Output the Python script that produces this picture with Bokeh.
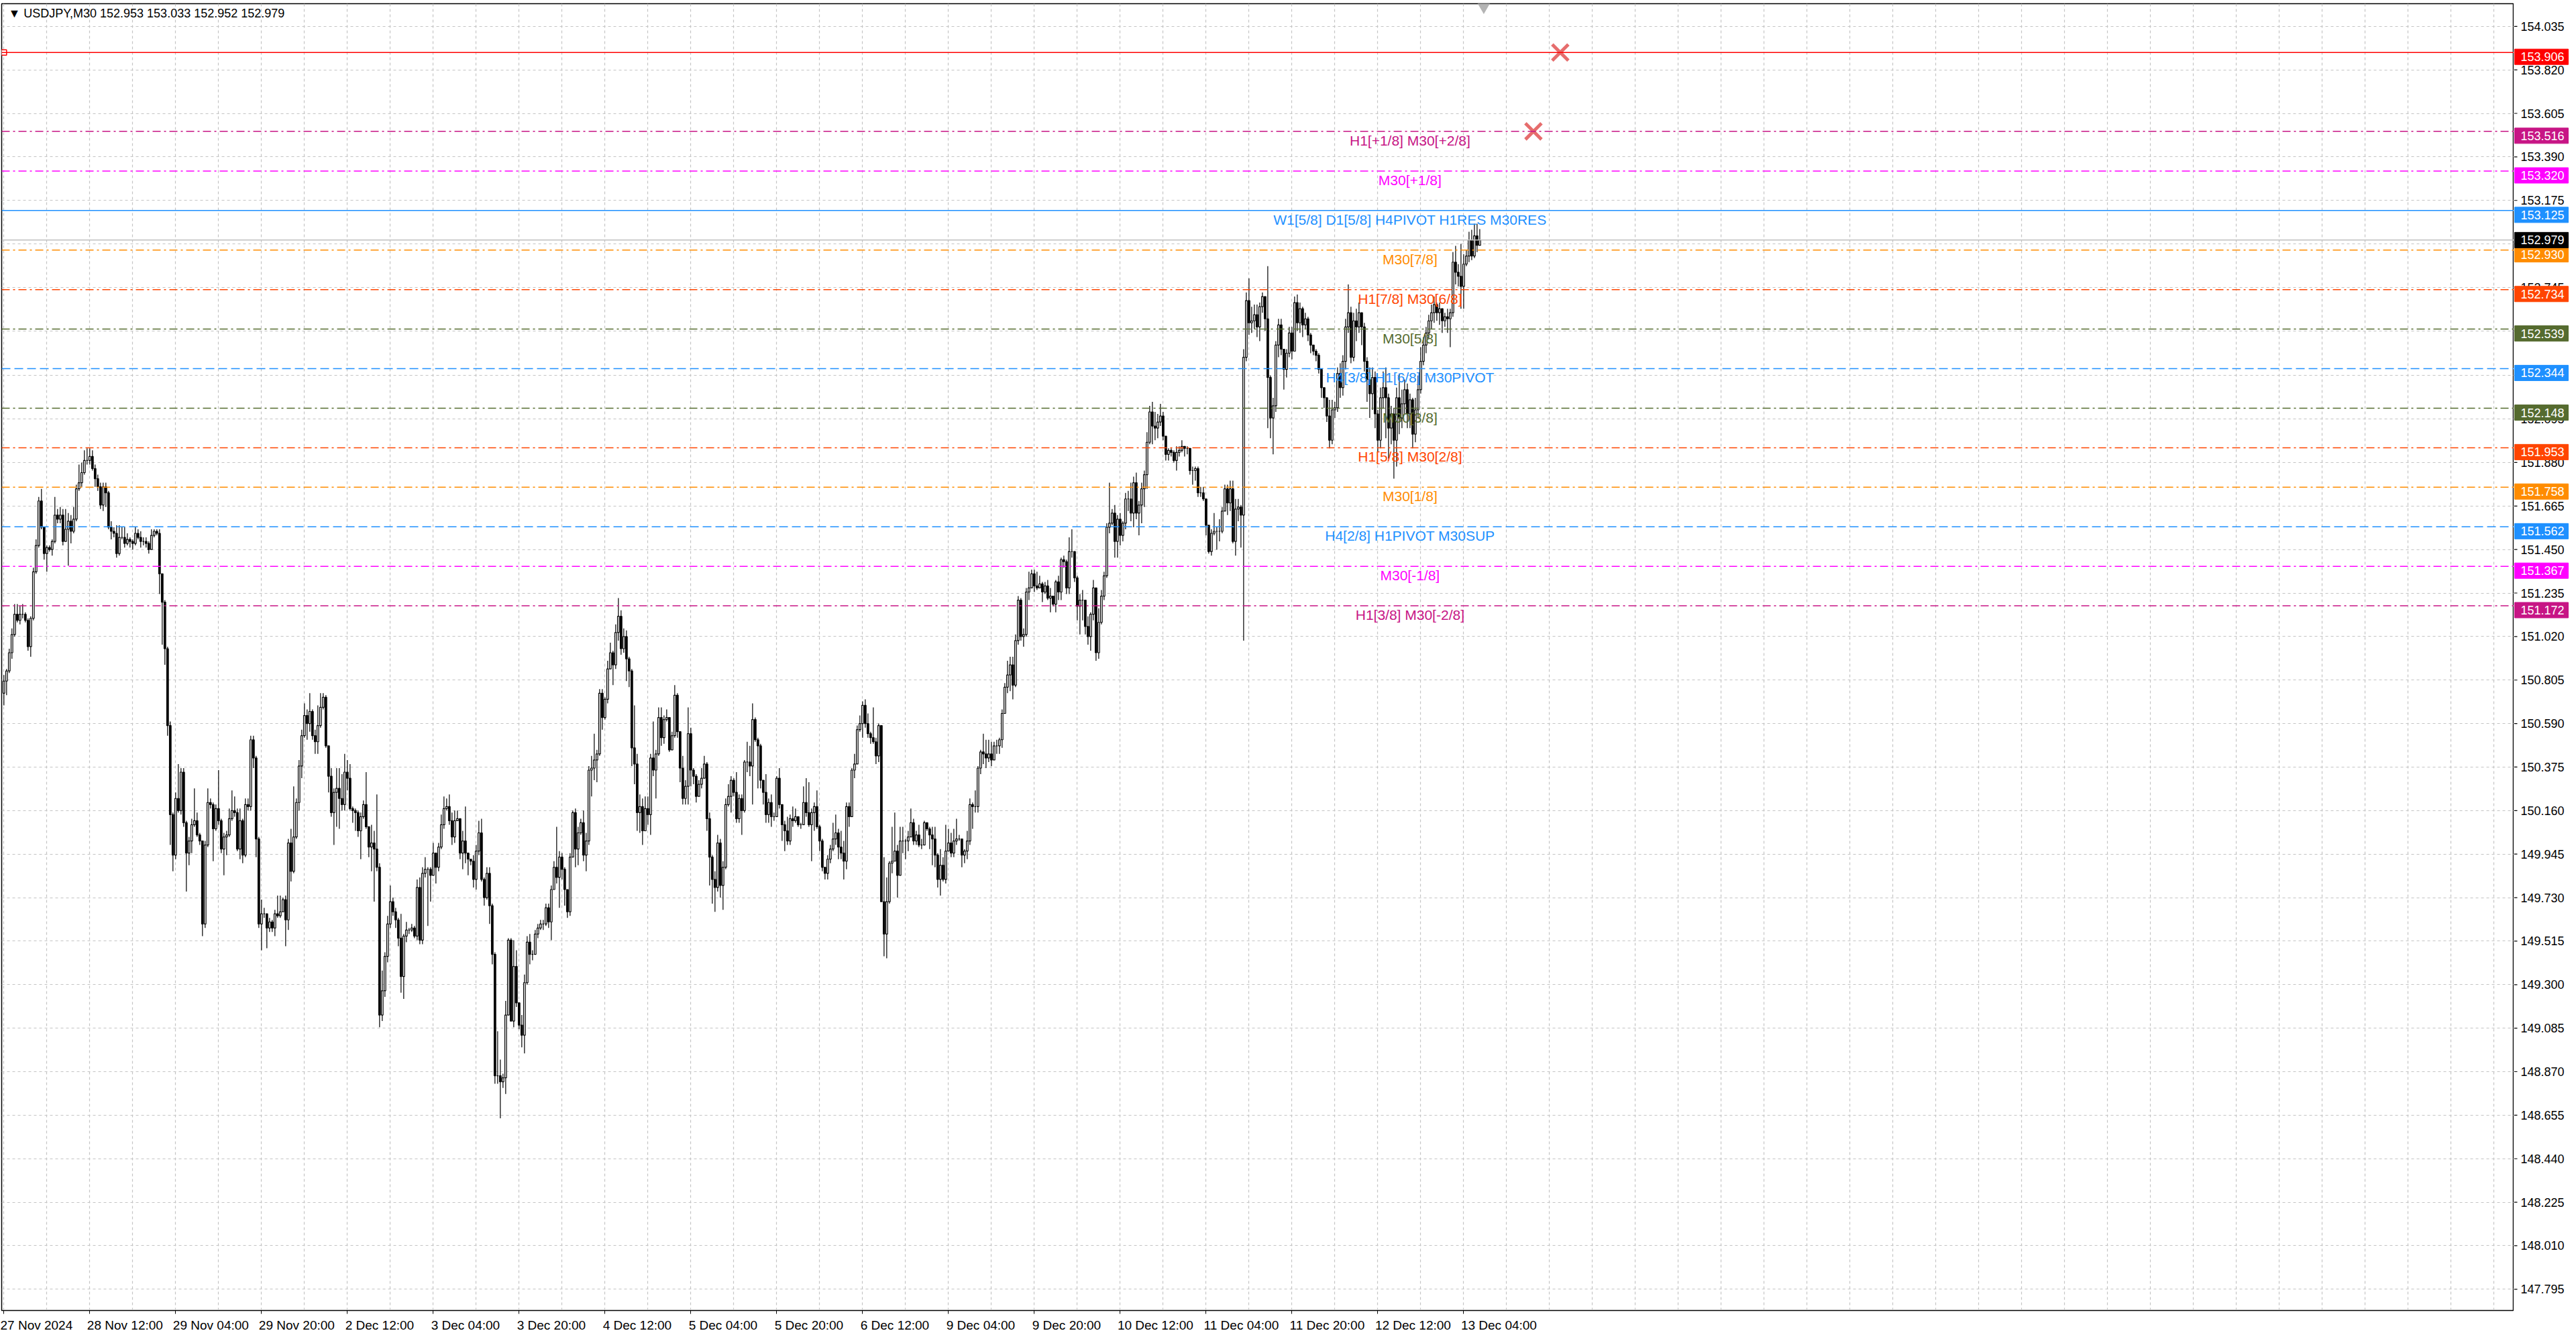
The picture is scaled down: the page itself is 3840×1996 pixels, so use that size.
import numpy as np
from bokeh.plotting import figure
from bokeh.layouts import row
from bokeh.models import ColumnDataSource, Range1d, FixedTicker, Span, Label, LinearAxis
from bokeh.core.properties import value
from bokeh.embed import file_html
from bokeh.resources import INLINE

# USDJPY M30 bars, bar 0 = 27 Nov 20:00
first_open = 150.74

close = [
    150.80, 150.85, 150.94, 151.03, 151.13, 151.10, 151.13, 151.13, 151.10, 150.97,
    151.11, 151.34, 151.47, 151.69, 151.56, 151.43, 151.46, 151.45, 151.49, 151.62,
    151.60, 151.62, 151.49, 151.55, 151.59, 151.54, 151.60, 151.75, 151.78, 151.83,
    151.89, 151.89, 151.91, 151.85, 151.80, 151.76, 151.67, 151.76, 151.73, 151.56,
    151.54, 151.53, 151.43, 151.51, 151.51, 151.48, 151.50, 151.49, 151.48, 151.53,
    151.51, 151.49, 151.49, 151.48, 151.45, 151.52, 151.54, 151.53, 151.33, 151.19,
    150.96, 150.58, 150.14, 149.94, 150.22, 150.16, 150.35, 150.10, 149.95, 150.01,
    150.09, 150.11, 150.04, 150.01, 149.60, 149.99, 150.20, 150.19, 150.07, 150.17,
    150.11, 149.97, 150.03, 150.04, 150.12, 150.16, 150.15, 149.97, 150.11, 149.94,
    150.19, 150.18, 150.51, 150.42, 150.02, 149.60, 149.65, 149.65, 149.58, 149.61,
    149.58, 149.65, 149.64, 149.66, 149.72, 149.62, 150.00, 149.86, 150.03, 150.20,
    150.38, 150.53, 150.63, 150.59, 150.65, 150.53, 150.50, 150.58, 150.67, 150.72,
    150.48, 150.33, 150.15, 150.25, 150.27, 150.22, 150.19, 150.35, 150.32, 150.17,
    150.16, 150.15, 150.06, 150.13, 150.19, 150.08, 149.98, 150.00, 149.97, 149.88,
    149.15, 149.27, 149.44, 149.60, 149.71, 149.66, 149.62, 149.53, 149.34, 149.54,
    149.57, 149.57, 149.58, 149.54, 149.78, 149.52, 149.85, 149.87, 149.87, 149.84,
    149.95, 149.88, 149.98, 150.09, 150.17, 150.18, 150.11, 150.03, 150.11, 150.12,
    149.95, 150.01, 149.95, 149.92, 149.91, 149.82, 149.96, 150.05, 149.82, 149.73,
    149.85, 149.69, 149.45, 148.85, 148.85, 148.82, 148.84, 149.15, 149.52, 149.12,
    149.39, 149.21, 149.10, 149.05, 149.31, 149.51, 149.45, 149.45, 149.55, 149.58,
    149.60, 149.60, 149.68, 149.61, 149.77, 149.88, 149.83, 149.93, 149.87, 149.77,
    149.66, 149.93, 150.15, 149.97, 150.05, 150.10, 149.94, 150.01, 150.36, 150.37,
    150.41, 150.44, 150.74, 150.62, 150.71, 150.86, 150.94, 150.88, 151.04, 151.12,
    150.96, 151.02, 150.91, 150.85, 150.47, 150.39, 150.15, 150.18, 150.06, 150.17,
    150.14, 150.42, 150.36, 150.44, 150.62, 150.52, 150.61, 150.62, 150.46, 150.53,
    150.73, 150.55, 150.37, 150.22, 150.28, 150.54, 150.36, 150.33, 150.23, 150.29,
    150.32, 150.39, 150.12, 149.93, 149.82, 149.78, 150.00, 149.79, 149.88, 150.19,
    150.23, 150.31, 150.25, 150.12, 150.22, 150.16, 150.40, 150.40, 150.38, 150.61,
    150.51, 150.48, 150.31, 150.25, 150.14, 150.20, 150.13, 150.13, 150.32, 150.19,
    150.09, 150.06, 150.01, 150.12, 150.11, 150.13, 150.09, 150.09, 150.20, 150.15,
    150.09, 150.15, 150.18, 150.08, 150.01, 149.88, 149.85, 149.92, 149.97, 150.02,
    150.05, 149.98, 149.95, 149.91, 150.18, 150.13, 150.36, 150.39, 150.56, 150.59,
    150.68, 150.59, 150.54, 150.52, 150.50, 150.43, 150.58, 149.71, 149.55, 149.71,
    149.90, 149.91, 149.96, 149.84, 150.01, 150.01, 150.01, 150.03, 150.10, 150.01,
    150.04, 149.99, 149.99, 150.10, 150.07, 150.04, 150.02, 149.94, 149.82, 149.89,
    149.82, 149.96, 150.00, 149.95, 150.01, 150.02, 150.02, 149.94, 149.96, 150.01,
    150.19, 150.18, 150.18, 150.37, 150.45, 150.44, 150.42, 150.44, 150.41, 150.48,
    150.48, 150.51, 150.64, 150.77, 150.83, 150.88, 150.78, 151.00, 151.20, 151.02,
    151.03, 151.24, 151.26, 151.33, 151.27, 151.26, 151.28, 151.24, 151.27, 151.21,
    151.22, 151.18, 151.29, 151.24, 151.40, 151.39, 151.26, 151.44, 151.44, 151.31,
    151.17, 151.20, 151.20, 151.07, 151.02, 151.13, 151.26, 150.94, 151.09, 151.22,
    151.32, 151.56, 151.58, 151.63, 151.49, 151.60, 151.52, 151.58, 151.70, 151.70,
    151.63, 151.78, 151.63, 151.67, 151.75, 151.82, 151.98, 152.13, 152.06, 152.05,
    152.08, 152.11, 152.01, 151.92, 151.94, 151.93, 151.89, 151.93, 151.94, 151.96,
    151.95, 151.95, 151.84, 151.84, 151.85, 151.73, 151.73, 151.70, 151.57, 151.44,
    151.53, 151.54, 151.54, 151.54, 151.64, 151.75, 151.68, 151.75, 151.49, 151.65,
    151.66, 151.62, 152.40, 152.68, 152.57, 152.58, 152.61, 152.55, 152.65, 152.70,
    152.59, 152.30, 152.10, 152.16, 152.46, 152.56, 152.44, 152.34, 152.42, 152.52,
    152.43, 152.67, 152.57, 152.64, 152.56, 152.59, 152.51, 152.46, 152.43, 152.41,
    152.34, 152.25, 152.20, 152.11, 151.99, 152.14, 152.15, 152.32, 152.25, 152.38,
    152.55, 152.62, 152.40, 152.58, 152.55, 152.62, 152.55, 152.38, 152.29, 152.22,
    152.30, 152.12, 151.99, 152.20, 152.25, 152.20, 152.05, 152.12, 151.99, 152.20,
    152.10, 152.17, 152.24, 152.12, 152.19, 152.02, 152.14, 152.24, 152.38, 152.46,
    152.52, 152.58, 152.62, 152.66, 152.62, 152.64, 152.58, 152.60, 152.59, 152.62,
    152.87, 152.82, 152.80, 152.75, 152.86, 152.90, 152.98, 152.90, 153.00, 152.953,
    152.979,
]

high = [
    150.83, 150.86, 150.96, 151.06, 151.18, 151.18, 151.17, 151.18, 151.14, 151.11,
    151.12, 151.36, 151.50, 151.71, 151.75, 151.55, 151.47, 151.47, 151.50, 151.71,
    151.65, 151.66, 151.65, 151.65, 151.63, 151.62, 151.66, 151.77, 151.87, 151.88,
    151.94, 151.95, 151.95, 151.94, 151.87, 151.82, 151.78, 151.78, 151.78, 151.74,
    151.59, 151.56, 151.57, 151.57, 151.56, 151.56, 151.53, 151.51, 151.50, 151.56,
    151.55, 151.54, 151.51, 151.51, 151.49, 151.55, 151.55, 151.55, 151.55, 151.32,
    151.20, 150.97, 150.60, 150.15, 150.25, 150.39, 150.37, 150.37, 150.11, 150.03,
    150.12, 150.27, 150.15, 150.05, 150.00, 150.01, 150.27, 150.22, 150.20, 150.19,
    150.36, 150.12, 150.05, 150.06, 150.17, 150.26, 150.23, 150.17, 150.17, 150.12,
    150.22, 150.22, 150.53, 150.53, 150.43, 150.03, 149.72, 149.68, 149.65, 149.63,
    149.62, 149.67, 149.74, 149.74, 149.73, 149.74, 150.02, 150.07, 150.28, 150.22,
    150.41, 150.56, 150.69, 150.66, 150.74, 150.66, 150.56, 150.68, 150.74, 150.74,
    150.73, 150.48, 150.37, 150.27, 150.37, 150.37, 150.34, 150.44, 150.41, 150.39,
    150.18, 150.17, 150.16, 150.15, 150.21, 150.35, 150.08, 150.09, 150.06, 150.24,
    149.90, 149.37, 149.46, 149.64, 149.79, 149.73, 149.68, 149.63, 149.65, 149.55,
    149.61, 149.58, 149.60, 149.59, 149.82, 149.83, 149.88, 149.93, 149.88, 149.88,
    150.00, 149.95, 150.00, 150.14, 150.23, 150.22, 150.24, 150.15, 150.16, 150.16,
    150.11, 150.06, 150.18, 149.95, 149.92, 149.94, 149.99, 150.11, 150.12, 149.83,
    149.88, 149.88, 149.70, 149.46, 149.07, 148.93, 148.86, 149.22, 149.53, 149.53,
    149.52, 149.47, 149.21, 149.15, 149.35, 149.54, 149.55, 149.47, 149.57, 149.60,
    149.62, 149.62, 149.70, 149.70, 149.79, 149.91, 150.08, 149.96, 149.95, 149.88,
    149.77, 149.95, 150.16, 150.17, 150.08, 150.12, 150.16, 150.05, 150.38, 150.43,
    150.54, 150.46, 150.76, 150.76, 150.72, 150.90, 150.99, 150.95, 151.08, 151.21,
    151.15, 151.06, 151.05, 150.92, 150.86, 150.68, 150.44, 150.24, 150.22, 150.23,
    150.23, 150.44, 150.60, 150.46, 150.67, 150.67, 150.63, 150.66, 150.62, 150.55,
    150.78, 150.74, 150.55, 150.43, 150.31, 150.67, 150.57, 150.37, 150.34, 150.31,
    150.37, 150.43, 150.40, 150.15, 149.94, 149.86, 150.04, 150.02, 149.91, 150.22,
    150.29, 150.33, 150.32, 150.35, 150.24, 150.24, 150.41, 150.50, 150.48, 150.69,
    150.62, 150.52, 150.49, 150.31, 150.34, 150.22, 150.24, 150.15, 150.33, 150.37,
    150.19, 150.11, 150.13, 150.14, 150.18, 150.17, 150.13, 150.10, 150.28, 150.32,
    150.30, 150.17, 150.20, 150.26, 150.09, 150.02, 149.87, 149.94, 149.99, 150.10,
    150.14, 150.07, 150.06, 150.01, 150.20, 150.20, 150.37, 150.44, 150.58, 150.63,
    150.70, 150.71, 150.64, 150.55, 150.67, 150.52, 150.59, 150.58, 149.93, 149.83,
    149.91, 150.08, 150.15, 149.99, 150.08, 150.08, 150.02, 150.06, 150.17, 150.12,
    150.06, 150.09, 150.02, 150.11, 150.10, 150.08, 150.08, 150.08, 149.95, 149.97,
    149.93, 150.09, 150.07, 150.05, 150.07, 150.12, 150.04, 150.02, 149.97, 150.06,
    150.22, 150.20, 150.26, 150.38, 150.46, 150.54, 150.51, 150.51, 150.50, 150.50,
    150.51, 150.52, 150.66, 150.79, 150.90, 150.92, 150.92, 151.03, 151.22, 151.21,
    151.06, 151.26, 151.34, 151.35, 151.35, 151.34, 151.32, 151.29, 151.29, 151.30,
    151.26, 151.22, 151.30, 151.32, 151.41, 151.42, 151.40, 151.51, 151.55, 151.44,
    151.32, 151.23, 151.25, 151.20, 151.12, 151.14, 151.30, 151.26, 151.16, 151.25,
    151.34, 151.58, 151.78, 151.65, 151.67, 151.62, 151.63, 151.59, 151.73, 151.74,
    151.78, 151.81, 151.83, 151.69, 151.78, 151.84, 152.03, 152.16, 152.18, 152.13,
    152.12, 152.17, 152.13, 152.01, 151.95, 151.95, 151.94, 151.96, 151.96, 151.99,
    151.96, 151.96, 151.95, 151.86, 151.86, 151.86, 151.76, 151.76, 151.70, 151.57,
    151.55, 151.63, 151.56, 151.60, 151.66, 151.77, 151.77, 151.79, 151.79, 151.70,
    151.70, 151.67, 152.44, 152.72, 152.79, 152.65, 152.66, 152.66, 152.67, 152.72,
    152.67, 152.85, 152.31, 152.20, 152.48, 152.59, 152.59, 152.44, 152.44, 152.55,
    152.55, 152.70, 152.71, 152.67, 152.65, 152.62, 152.60, 152.52, 152.46, 152.44,
    152.42, 152.34, 152.25, 152.20, 152.19, 152.19, 152.18, 152.35, 152.37, 152.41,
    152.59, 152.76, 152.65, 152.62, 152.64, 152.67, 152.62, 152.57, 152.40, 152.35,
    152.35, 152.33, 152.14, 152.25, 152.33, 152.35, 152.22, 152.16, 152.15, 152.25,
    152.32, 152.24, 152.29, 152.27, 152.22, 152.20, 152.20, 152.31, 152.45, 152.50,
    152.55, 152.61, 152.66, 152.70, 152.67, 152.67, 152.63, 152.62, 152.64, 152.64,
    152.92, 152.95, 152.86, 152.96, 152.91, 152.93, 153.02, 153.03, 153.06, 153.06,
    153.033,
]

low = [
    150.68, 150.73, 150.84, 150.91, 151.02, 151.09, 151.08, 151.11, 151.09, 150.95,
    150.92, 151.10, 151.33, 151.46, 151.55, 151.40, 151.34, 151.44, 151.42, 151.48,
    151.58, 151.58, 151.47, 151.49, 151.37, 151.48, 151.53, 151.59, 151.74, 151.76,
    151.82, 151.87, 151.87, 151.84, 151.76, 151.74, 151.65, 151.64, 151.66, 151.55,
    151.50, 151.51, 151.41, 151.42, 151.50, 151.46, 151.47, 151.46, 151.45, 151.47,
    151.50, 151.46, 151.47, 151.46, 151.43, 151.45, 151.51, 151.52, 151.23, 150.98,
    150.88, 150.53, 149.99, 149.86, 149.92, 150.15, 150.14, 150.08, 149.76, 149.89,
    149.95, 150.08, 150.03, 149.99, 149.54, 149.58, 149.98, 150.17, 149.91, 150.06,
    150.09, 149.95, 149.84, 149.94, 150.03, 150.11, 150.13, 149.96, 149.92, 149.90,
    149.93, 150.16, 150.16, 150.37, 149.93, 149.58, 149.47, 149.63, 149.48, 149.56,
    149.56, 149.54, 149.63, 149.63, 149.67, 149.49, 149.57, 149.81, 149.85, 150.02,
    150.16, 150.32, 150.52, 150.51, 150.55, 150.51, 150.44, 150.44, 150.57, 150.66,
    150.47, 150.25, 150.13, 149.99, 150.08, 150.07, 150.16, 150.16, 150.26, 150.16,
    150.10, 150.06, 150.03, 149.92, 150.12, 150.07, 149.93, 149.86, 149.71, 149.86,
    149.09, 149.12, 149.24, 149.41, 149.58, 149.64, 149.58, 149.49, 149.26, 149.23,
    149.51, 149.55, 149.56, 149.53, 149.52, 149.50, 149.50, 149.83, 149.59, 149.71,
    149.84, 149.80, 149.86, 149.97, 150.07, 150.16, 150.09, 149.99, 150.00, 150.11,
    149.92, 149.87, 149.90, 149.84, 149.89, 149.78, 149.77, 149.94, 149.81, 149.69,
    149.72, 149.60, 149.40, 148.81, 148.81, 148.64, 148.79, 148.76, 149.15, 149.12,
    149.09, 149.19, 149.08, 148.99, 148.96, 149.30, 149.40, 149.42, 149.45, 149.53,
    149.57, 149.57, 149.59, 149.58, 149.52, 149.77, 149.80, 149.68, 149.82, 149.69,
    149.63, 149.64, 149.93, 149.88, 149.89, 150.04, 149.91, 149.86, 149.99, 150.23,
    150.31, 150.30, 150.43, 150.56, 150.61, 150.69, 150.87, 150.78, 150.86, 151.00,
    150.93, 150.94, 150.80, 150.77, 150.38, 150.29, 150.06, 150.05, 149.99, 150.06,
    150.09, 150.04, 150.33, 150.22, 150.43, 150.48, 150.49, 150.60, 150.45, 150.46,
    150.52, 150.52, 150.30, 150.19, 150.19, 150.19, 150.28, 150.29, 150.20, 150.23,
    150.27, 150.32, 150.06, 149.79, 149.70, 149.66, 149.76, 149.73, 149.67, 149.87,
    150.18, 150.15, 150.23, 150.10, 150.10, 150.04, 150.15, 150.35, 150.33, 150.19,
    150.50, 150.27, 150.27, 150.19, 150.10, 150.10, 150.08, 150.11, 150.13, 150.17,
    150.01, 149.96, 149.99, 149.99, 150.08, 150.10, 150.08, 150.07, 150.09, 150.13,
    150.08, 149.91, 150.06, 150.07, 149.96, 149.86, 149.82, 149.82, 149.90, 149.96,
    149.99, 149.92, 149.92, 149.82, 149.87, 150.08, 150.13, 150.32, 150.39, 150.55,
    150.52, 150.57, 150.52, 150.49, 150.49, 150.39, 150.40, 149.71, 149.44, 149.43,
    149.70, 149.85, 149.92, 149.73, 149.84, 149.95, 149.92, 149.96, 150.03, 149.99,
    149.99, 149.98, 149.97, 149.99, 150.06, 149.97, 149.89, 149.88, 149.78, 149.74,
    149.81, 149.80, 149.96, 149.93, 149.93, 149.99, 150.01, 149.88, 149.90, 149.92,
    149.99, 150.07, 150.15, 150.15, 150.34, 150.39, 150.37, 150.40, 150.38, 150.41,
    150.44, 150.44, 150.47, 150.64, 150.74, 150.75, 150.71, 150.77, 150.98, 151.00,
    150.97, 151.02, 151.20, 151.26, 151.24, 151.25, 151.26, 151.19, 151.23, 151.20,
    151.14, 151.17, 151.14, 151.20, 151.20, 151.36, 151.23, 151.23, 151.41, 151.29,
    151.10, 151.03, 151.10, 151.03, 150.98, 150.95, 151.10, 150.90, 150.91, 151.08,
    151.20, 151.31, 151.53, 151.57, 151.41, 151.41, 151.47, 151.49, 151.55, 151.64,
    151.59, 151.56, 151.60, 151.52, 151.58, 151.66, 151.75, 151.97, 151.97, 151.99,
    152.00, 152.06, 151.99, 151.89, 151.89, 151.91, 151.88, 151.84, 151.91, 151.93,
    151.91, 151.92, 151.82, 151.77, 151.79, 151.71, 151.71, 151.69, 151.52, 151.43,
    151.42, 151.52, 151.45, 151.49, 151.53, 151.64, 151.62, 151.64, 151.48, 151.42,
    151.59, 151.46, 151.00, 152.38, 152.51, 152.52, 152.54, 152.50, 152.48, 152.62,
    152.53, 152.05, 152.00, 151.92, 152.13, 152.40, 152.41, 152.24, 152.30, 152.40,
    152.39, 152.43, 152.53, 152.52, 152.50, 152.54, 152.48, 152.42, 152.41, 152.38,
    152.32, 152.20, 152.15, 152.08, 151.95, 151.97, 152.10, 152.13, 152.20, 152.21,
    152.34, 152.52, 152.37, 152.38, 152.48, 152.52, 152.46, 152.33, 152.18, 152.10,
    152.14, 152.05, 151.93, 151.95, 152.15, 152.00, 151.90, 151.97, 151.80, 151.86,
    152.02, 152.05, 152.12, 152.05, 152.05, 151.95, 151.98, 152.10, 152.22, 152.36,
    152.42, 152.49, 152.54, 152.57, 152.58, 152.56, 152.52, 152.55, 152.52, 152.45,
    152.60, 152.76, 152.75, 152.64, 152.64, 152.85, 152.87, 152.88, 152.89, 152.92,
    152.952,
]

time_tick_bars = [0, 32, 64, 96, 128, 160, 192, 224, 256, 288, 320, 352, 384, 416, 448, 480, 512, 544]
time_tick_labels = ["27 Nov 2024", "28 Nov 12:00", "29 Nov 04:00", "29 Nov 20:00", "2 Dec 12:00",
                    "3 Dec 04:00", "3 Dec 20:00", "4 Dec 12:00", "5 Dec 04:00", "5 Dec 20:00",
                    "6 Dec 12:00", "9 Dec 04:00", "9 Dec 20:00", "10 Dec 12:00", "11 Dec 04:00",
                    "11 Dec 20:00", "12 Dec 12:00", "13 Dec 04:00"]

price_ticks = [154.035, 153.820, 153.605, 153.390, 153.175, 152.960, 152.745, 152.530, 152.310,
               152.095, 151.880, 151.665, 151.450, 151.235, 151.020, 150.805, 150.590, 150.375,
               150.160, 149.945, 149.730, 149.515, 149.300, 149.085, 148.870, 148.655, 148.440,
               148.225, 148.010, 147.795]

# Murrey-math style levels drawn on the chart
level_prices = [153.906, 153.516, 153.320, 153.125, 152.930, 152.734, 152.539,
                152.344, 152.148, 151.953, 151.758, 151.562, 151.367, 151.172]
level_colors = ["#FF0000", "#C71585", "#FF00FF", "#1E90FF", "#FF8C00", "#FF4500", "#556B2F",
                "#1E90FF", "#556B2F", "#FF4500", "#FF8C00", "#1E90FF", "#FF00FF", "#C71585"]
level_names = ["", "H1[+1/8] M30[+2/8]", "M30[+1/8]", "W1[5/8] D1[5/8] H4PIVOT H1RES M30RES",
               "M30[7/8]", "H1[7/8] M30[6/8]", "M30[5/8]", "H4[3/8] H1[6/8] M30PIVOT",
               "M30[3/8]", "H1[5/8] M30[2/8]", "M30[1/8]", "H4[2/8] H1PIVOT M30SUP",
               "M30[-1/8]", "H1[3/8] M30[-2/8]"]
DASHDOT = "12 5 3 5"
DASHED = "13 6"
level_dashes = ["solid", DASHDOT, DASHDOT, "solid", DASHDOT, DASHDOT, DASHDOT,
                DASHED, DASHDOT, DASHDOT, DASHDOT, DASHED, DASHDOT, DASHDOT]

bid_price = 152.979
header_text = "\u25BC USDJPY,M30  152.953 153.033 152.952 152.979"

cross_bars = [580, 570]
cross_prices = [153.906, 153.516]
alert_bars = [0]
alert_prices = [153.906]
shift_bar = [551.5]

# ---------------------------------------------------------------
FONT = "Liberation Sans"
X_START, X_END = -0.825, 935.4
Y_START, Y_END = 147.690, 154.147
LABEL_BAR = 524
HEIGHT = 1988
TOP, BOTTOM = 5, 29
FRAME_H = HEIGHT - TOP - BOTTOM
PX_PER_UNIT = FRAME_H / (Y_END - Y_START)
SIDE_W = 85
TAG_DROP_PX = 6.5

n = min(len(close), len(high), len(low))
c = np.array(close[:n])
o = np.concatenate([[first_open], c[:-1]])
h = np.maximum(np.array(high[:n]), np.maximum(o, c))
lo = np.minimum(np.array(low[:n]), np.minimum(o, c))
x = np.arange(n)
up = c >= o

src = ColumnDataSource(dict(
    x=x, hi=h, lo=lo,
    btop=np.maximum(o, c), bbot=np.minimum(o, c),
    fill=np.where(up, "white", "black"),
))

y_range = Range1d(Y_START, Y_END)
p = figure(width=3747, height=HEIGHT,
           x_range=Range1d(X_START, X_END), y_range=y_range,
           y_axis_location=None, x_axis_location=None,
           toolbar_location=None, output_backend="svg",
           min_border_left=2, min_border_top=TOP, min_border_right=0, min_border_bottom=BOTTOM)
p.background_fill_color = "white"
p.border_fill_color = "white"
p.outline_line_color = "black"
p.outline_line_width = 1.5

# grid
p.ygrid.ticker = FixedTicker(ticks=price_ticks)
p.xgrid.ticker = FixedTicker(ticks=list(range(0, 940, 16)))
p.grid.grid_line_color = "#C4C4C4"
p.grid.grid_line_dash = "4 4"
p.grid.grid_line_width = 1.2

# time axis: tick marks at the bars, captions start at the tick (MT4 style)
tick_axis = LinearAxis(ticker=FixedTicker(ticks=time_tick_bars))
tick_axis.major_label_overrides = {b: "" for b in time_tick_bars}
tick_axis.major_label_text_color = None
tick_axis.major_label_text_font_size = "1px"
tick_axis.major_label_standoff = 0
tick_axis.major_tick_in = 0
tick_axis.major_tick_out = 5
tick_axis.major_tick_line_color = "black"
tick_axis.minor_tick_line_color = None
tick_axis.axis_line_color = "black"
p.add_layout(tick_axis, "below")

label_pos = [round(b + (len(t) * 0.47 * 19 / 2 - 1) / 4.0, 2)
             for b, t in zip(time_tick_bars, time_tick_labels)]
label_axis = LinearAxis(ticker=FixedTicker(ticks=label_pos))
label_axis.major_label_overrides = dict(zip(label_pos, time_tick_labels))
label_axis.major_label_text_font = FONT
label_axis.major_label_text_font_size = "19px"
label_axis.major_label_text_color = "black"
label_axis.major_label_standoff = 0
label_axis.major_tick_line_color = None
label_axis.minor_tick_line_color = None
label_axis.axis_line_color = None
p.add_layout(label_axis, "below")

# level lines
for price, color, dash in zip(level_prices, level_colors, level_dashes):
    p.add_layout(Span(location=price, dimension="width", line_color=color,
                      line_dash=dash, line_width=1.5))
p.add_layout(Span(location=bid_price, dimension="width", line_color="#C0C0C0", line_width=1.5))

# candles
p.segment(x0="x", y0="hi", x1="x", y1="lo", source=src, line_color="black", line_width=1.2)
p.vbar(x="x", top="btop", bottom="bbot", width=0.64, source=src,
       fill_color="fill", line_color="black", line_width=1.2)

# level captions
cap = ColumnDataSource(dict(
    x=[LABEL_BAR] * (len(level_prices) - 1), y=level_prices[1:],
    text=level_names[1:], color=level_colors[1:]))
p.text(x="x", y="y", text="text", source=cap, text_color="color",
       text_align="center", text_baseline="top", y_offset=2,
       text_font=value(FONT), text_font_size="21px")

# markers
p.scatter(x=cross_bars, y=cross_prices, marker="x", size=34, line_width=5,
          line_color="#E35D5D", alpha=0.9)
p.scatter(x=alert_bars, y=alert_prices, marker="square", size=8,
          fill_color="white", line_color="red", line_width=1.5)
p.scatter(x=shift_bar, y=[Y_END - 4 / PX_PER_UNIT], marker="inverted_triangle", size=20,
          fill_color="#B4B4B4", line_color=None)

p.add_layout(Label(x=X_START, y=Y_END, x_offset=10, y_offset=-4, text=header_text,
                   text_align="left", text_baseline="top",
                   text_font=FONT, text_font_size="18px", text_color="black"))

# right price scale with the coloured price tags on top of it
q = figure(width=SIDE_W, height=HEIGHT, x_range=Range1d(0, SIDE_W), y_range=y_range,
           x_axis_location=None, y_axis_location=None, toolbar_location=None,
           output_backend="svg", min_border_left=0, min_border_right=0,
           min_border_top=TOP, min_border_bottom=BOTTOM)
q.grid.visible = False
q.outline_line_color = None
q.background_fill_color = "white"
q.border_fill_color = "white"

q.segment(x0=[0] * len(price_ticks), y0=price_ticks, x1=[5] * len(price_ticks), y1=price_ticks,
          line_color="black", line_width=1.2)
q.text(x=[10] * len(price_ticks), y=price_ticks, text=[f"{t:.3f}" for t in price_ticks],
       text_align="left", text_baseline="middle", text_color="black",
       text_font=value(FONT), text_font_size="18px")

tag_prices = level_prices + [bid_price]
tag_colors = level_colors + ["black"]
tag_drop = [TAG_DROP_PX] * len(level_prices) + [0]
tags = ColumnDataSource(dict(
    y=[v - d / PX_PER_UNIT for v, d in zip(tag_prices, tag_drop)],
    color=tag_colors, text=[f"{v:.3f}" for v in tag_prices]))
q.rect(x=41, y="y", width=80, height=23, height_units="screen", source=tags,
       fill_color="color", line_color="color")
q.text(x=10, y="y", text="text", source=tags, text_color="white",
       text_align="left", text_baseline="middle",
       text_font=value(FONT), text_font_size="18px")

layout = row(p, q)
with open("out.html", "w", encoding="utf-8") as f:
    f.write(file_html(layout, INLINE))
